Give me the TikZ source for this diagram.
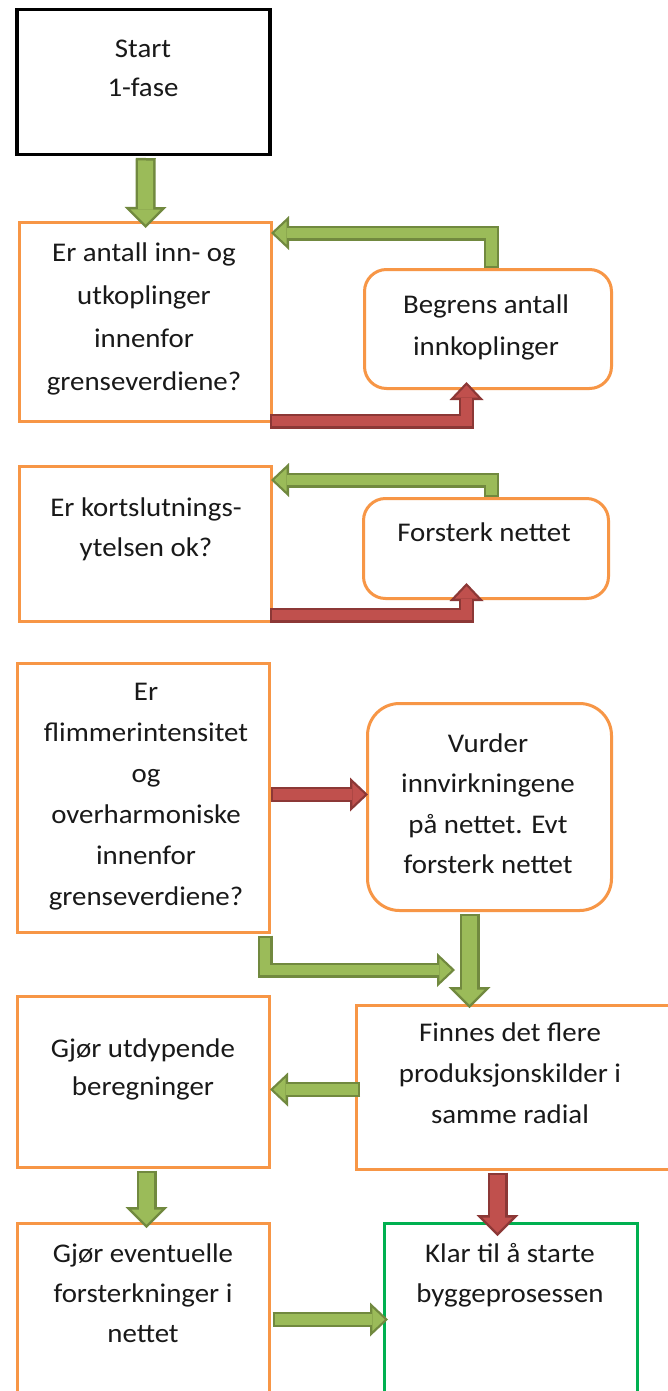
\documentclass[tikz,border=0pt]{standalone}
\usepackage{fontspec}
\setmainfont{Carlito}[FakeStretch=1.07]
\usetikzlibrary{arrows.meta,calc}

\definecolor{boxorange}{HTML}{F79646}
\definecolor{boxgreen}{HTML}{00B050}
\definecolor{okfill}{HTML}{9BBB59}
\definecolor{okline}{HTML}{71893F}
\definecolor{nofill}{HTML}{C0504D}
\definecolor{noline}{HTML}{8C3836}

% invisible rule that fixes the height of a first text line
\newcommand\txtstrut{\rule{0pt}{30pt}}

\tikzset{
  box/.style={draw=boxorange, line width=3pt, anchor=north west, inner sep=0pt, fill=white},
  roundbox/.style={box, rounded corners=22pt},
  txt/.style={anchor=north, align=center, inner sep=0pt, text=black!90,
              font=\fontsize{27}{#1}\selectfont},
  txt/.default=41,
  % block arrows: dark outline stroke with a lighter body stroked on top
  bigarrow/.style 2 args={draw=#2, line width=20pt, line join=miter,
    -{Triangle[length=21pt,width=42pt,line width=0pt]},
    postaction={draw=#1, line width=15pt, shorten >=3.5pt, shorten <=2.5pt,
      -{Triangle[length=15pt,width=30pt,line width=0pt]}}},
  smallarrow/.style 2 args={draw=#2, line width=15pt, line join=miter,
    -{Triangle[length=18pt,width=34pt,line width=0pt]},
    postaction={draw=#1, line width=10.4pt, shorten >=3.3pt, shorten <=2.3pt,
      -{Triangle[length=12.4pt,width=23.3pt,line width=0pt]}}},
}

\begin{document}
\begin{tikzpicture}[x=1pt,y=-1pt]
\fill[white] (0,0) rectangle (667,1391);
\useasboundingbox (0,0) rectangle (667,1391);

% boxes
\node[box, draw=black, line width=3.5pt, minimum width=253pt, minimum height=145pt] (start) at (15,8) {};
\node[box, minimum width=252pt, minimum height=199pt] (b1) at (18,221) {};
\node[roundbox, minimum width=247pt, minimum height=119pt] (beg) at (363,268) {};
\node[box, minimum width=252pt, minimum height=155pt] (b2) at (18,465) {};
\node[roundbox, minimum width=245pt, minimum height=100pt] (fst) at (362,497) {};
\node[box, minimum width=252pt, minimum height=269pt] (b3) at (16,662) {};
\node[roundbox, rounded corners=32pt, minimum width=244pt, minimum height=207pt] (vur) at (366,702) {};
\node[box, minimum width=252pt, minimum height=171pt] (gut) at (16,995) {};
\node[box, minimum width=320pt, minimum height=164pt] (fin) at (355,1004) {};
\node[box, minimum width=252pt, minimum height=200pt] (gev) at (16,1222) {};
\node[box, draw=boxgreen, minimum width=253pt, minimum height=200pt] (klar) at (383,1222) {};

% texts
\node[txt=39] (tstart) at (143,27) {\txtstrut Start\\1-fase};
\node[txt=43] (tb1) at (144,231) {\txtstrut Er antall inn- og\\utkoplinger\\innenfor\\grenseverdiene?};
\node[txt=42] (tbeg) at (486,283) {\txtstrut Begrens antall\\innkoplinger};
\node[txt=40] (tb2) at (146,486) {\txtstrut Er kortslutnings-\\ytelsen ok?};
\node[txt] (tfst) at (484,511) {\txtstrut Forsterk nettet};
\node[txt=41] (tb3) at (146,670) {\txtstrut Er\\flimmerintensitet\\og\\overharmoniske\\innenfor\\grenseverdiene?};
\node[txt=40.5] (tvur) at (488,722) {\txtstrut Vurder\\innvirkningene\\på nettet. Evt\\forsterk nettet};
\node[txt=38.5] (tgut) at (143,1027) {\txtstrut Gjør utdypende\\beregninger};
\node[txt=41] (tfin) at (510,1011) {\txtstrut Finnes det flere\\produksjonskilder i\\samme radial};
\node[txt=40] (tgev) at (143,1232) {\txtstrut Gjør eventuelle\\forsterkninger i\\nettet};
\node[txt=40] (tklar) at (510,1232) {\txtstrut Klar til å starte\\byggeprosessen};

% connectors
\coordinate (join) at (455,970);

\draw[bigarrow={okfill}{okline}] ($(start.south)+(2.5,1.5)$) -- ($(b1.north)+(0,7)$);
\draw[smallarrow={okfill}{okline}] ($(beg.north)+(3.5,0)$) |- ($(b1.north east)+(-2,12)$);
\draw[smallarrow={nofill}{noline}] ($(b1.south east)+(-3,-2)$) -| ($(beg.south)+(-21.5,-8)$);
\draw[smallarrow={okfill}{okline}] ($(fst.north)+(5.5,0)$) |- ($(b2.north east)+(-2,15)$);
\draw[smallarrow={nofill}{noline}] ($(b2.south east)+(-3,-8)$) -| ($(fst.south)+(-19.5,-17)$);
\draw[smallarrow={nofill}{noline}] ($(b3.east)+(0,-3.5)$) -- ($(vur.west)+(2,-12.5)$);
\draw[smallarrow={okfill}{okline}] ($(b3.south east)+(-6,1.5)$) |- (join);
\draw[bigarrow={okfill}{okline}] ($(vur.south)+(-20,1.5)$) -- ($(vur.south |- fin.north)+(-20,4)$);
\draw[smallarrow={okfill}{okline}] ($(fin.west)+(5,2)$) -- ($(gut.east)+(-1,7.5)$);
\draw[bigarrow={okfill}{okline}] ($(gut.south)+(3,1.5)$) -- ($(gev.north)+(3,6)$);
\draw[bigarrow={nofill}{noline}] ($(fin.south)+(-19,1.5)$) -- ($(klar.north)+(-13.5,14)$);
\draw[smallarrow={okfill}{okline}] ($(gev.east)+(1.5,-4)$) -- ($(klar.west)+(5,-4)$);
\end{tikzpicture}
\end{document}
